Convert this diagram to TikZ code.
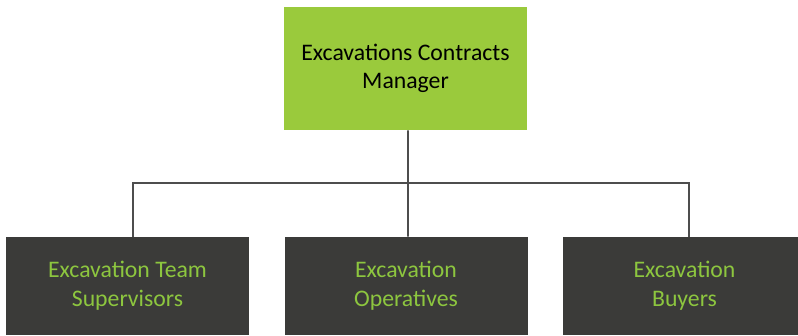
\documentclass[tikz,border=0pt]{standalone}
\usepackage{fontspec}
\setmainfont{Carlito}
\usepackage{xcolor}
\usetikzlibrary{positioning,calc,backgrounds}

\definecolor{mgrgreen}{HTML}{9ACA3C}
\definecolor{boxgray}{HTML}{3B3B39}
\definecolor{txtgreen}{HTML}{8DC63F}
\definecolor{linegray}{HTML}{4D4D4D}

\begin{document}
\begin{tikzpicture}[x=0.75pt,y=-0.75pt]
  % Define styles
  \tikzstyle{manager} = [rectangle, fill=mgrgreen, text=black, align=center, minimum width=182.25pt, minimum height=92.25pt, font=\fontsize{17.8}{21}\selectfont]
  \tikzstyle{staff} = [rectangle, fill=boxgray, text=txtgreen, align=center, minimum width=182.25pt, minimum height=73.5pt, font=\fontsize{17.8}{21.5}\selectfont]
  \tikzstyle{link} = [linegray, line width=1.3pt]

  \useasboundingbox (0,0) rectangle (798,335);

  % Manager on top
  \node [manager] (manager) at (405.5,68.5) {Excavations Contracts\\Manager};

  % Staff row
  \node [staff] (supervisors) at (127.5,286) {Excavation Team\\Supervisors};
  \node [staff] (operatives) at (406,286) {Excavation\\Operatives};
  \node [staff] (buyers) at (684.5,286) {Excavation\\Buyers};

  % Tree connectors, behind the boxes
  \coordinate (bus) at (408,183);
  \begin{scope}[on background layer]
    \draw [link] ([xshift=1.9pt]manager.south) -- ([xshift=1.5pt]operatives.north);
    \draw [link] (bus) -| ([xshift=4.1pt]supervisors.north);
    \draw [link] (bus) -| ([xshift=3.4pt]buyers.north);
  \end{scope}
\end{tikzpicture}
\end{document}
